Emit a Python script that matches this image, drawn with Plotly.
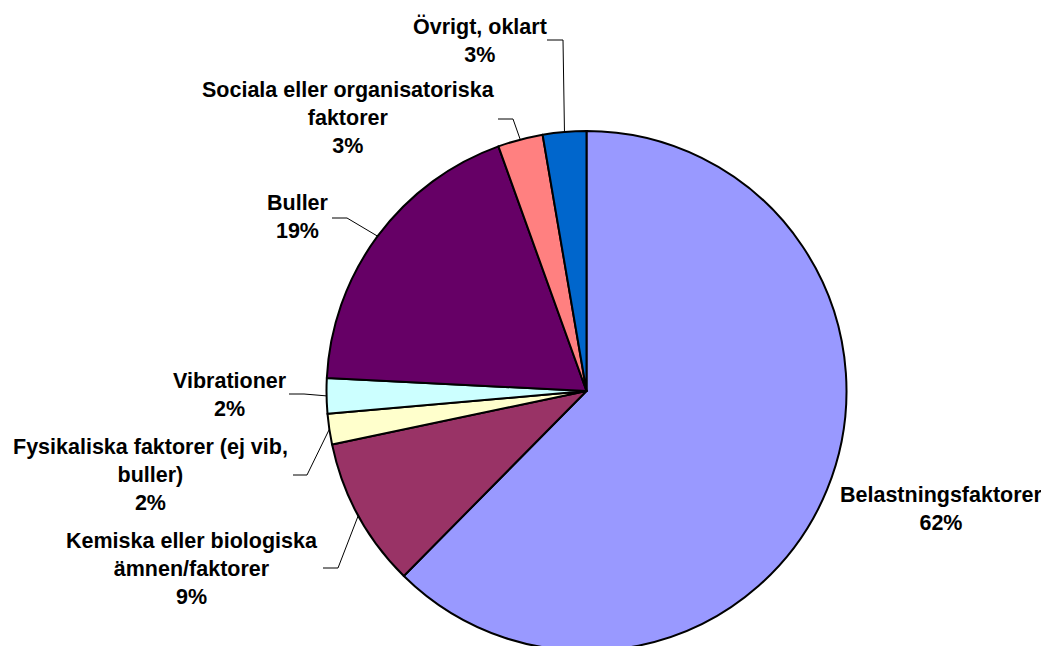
import math
import plotly.graph_objects as go

categories = ["Belastningsfaktorer", "Kemiska eller biologiska ämnen/faktorer",
              "Fysikaliska faktorer (ej vib, buller)", "Vibrationer", "Buller",
              "Sociala eller organisatoriska faktorer", "Övrigt, oklart"]
label_lines = ["Belastningsfaktorer", "Kemiska eller biologiska<br>ämnen/faktorer",
               "Fysikaliska faktorer (ej vib,<br>buller)", "Vibrationer", "Buller",
               "Sociala eller organisatoriska<br>faktorer", "Övrigt, oklart"]
values = [62.4, 9.3, 1.9, 2.2, 18.7, 2.8, 2.7]
colors = ["#9999FF", "#993366", "#FFFFCC", "#CCFFFF", "#660066", "#FF8080", "#0066CC"]

W, H = 1049, 646
OFF = 8  # page body margin
cx, cy, r = 586.5, 391, 260

# label centre (page px) and leader line start/elbow (page px); None = no leader
label_pos = [(941, 509), (192, 569), (150, 475), (229.5, 394.5), (297.5, 217.5), (348.5, 118), (479.5, 40)]
leaders = [None, ((323, 568), (338, 568)), ((293, 475), (307, 475)), ((289, 394), (304, 394)),
           ((332, 218), (347, 218)), ((498, 119), (513, 119)), ((547, 40), (563, 40))]


def px(x, y):
    return (x - OFF) / W, 1 - (y - OFF) / H


fig = go.Figure(go.Pie(
    labels=categories, values=values, sort=False, direction="clockwise", rotation=0,
    marker=dict(colors=colors, line=dict(color="black", width=2)),
    textinfo="none", hoverinfo="skip", showlegend=False,
    domain=dict(x=[(cx - OFF - 300) / W, (cx - OFF + 300) / W],
                y=[1 - (cy - OFF + r) / H, 1 - (cy - OFF - r) / H]),
))

total = sum(values)
cum = 0
shapes, annots = [], []
for i, v in enumerate(values):
    mid = 2 * math.pi * (cum + v / 2) / total
    cum += v
    ex, ey = cx + r * math.sin(mid), cy - r * math.cos(mid)
    pct = f"{round(100 * v / total)}%"
    lx, ly = px(*label_pos[i])
    annots.append(dict(x=lx, y=ly, xref="paper", yref="paper", text=f"{label_lines[i]}<br>{pct}",
                       showarrow=False, xanchor="center", yanchor="middle", align="center",
                       font=dict(family="Arial, Liberation Sans", size=21.5, color="black", weight="bold")))
    if leaders[i]:
        (ax, ay), (bx, by) = leaders[i]
        p0, p1, p2 = px(ax, ay), px(bx, by), px(ex, ey)
        shapes.append(dict(type="path", xref="paper", yref="paper",
                           path=f"M {p0[0]},{p0[1]} L {p1[0]},{p1[1]} L {p2[0]},{p2[1]}",
                           line=dict(color="black", width=1)))

fig.update_layout(
    width=W, height=H, margin=dict(l=0, r=0, t=0, b=0),
    paper_bgcolor="white", plot_bgcolor="white",
    annotations=annots, shapes=shapes,
)
fig.write_html("out.html")
